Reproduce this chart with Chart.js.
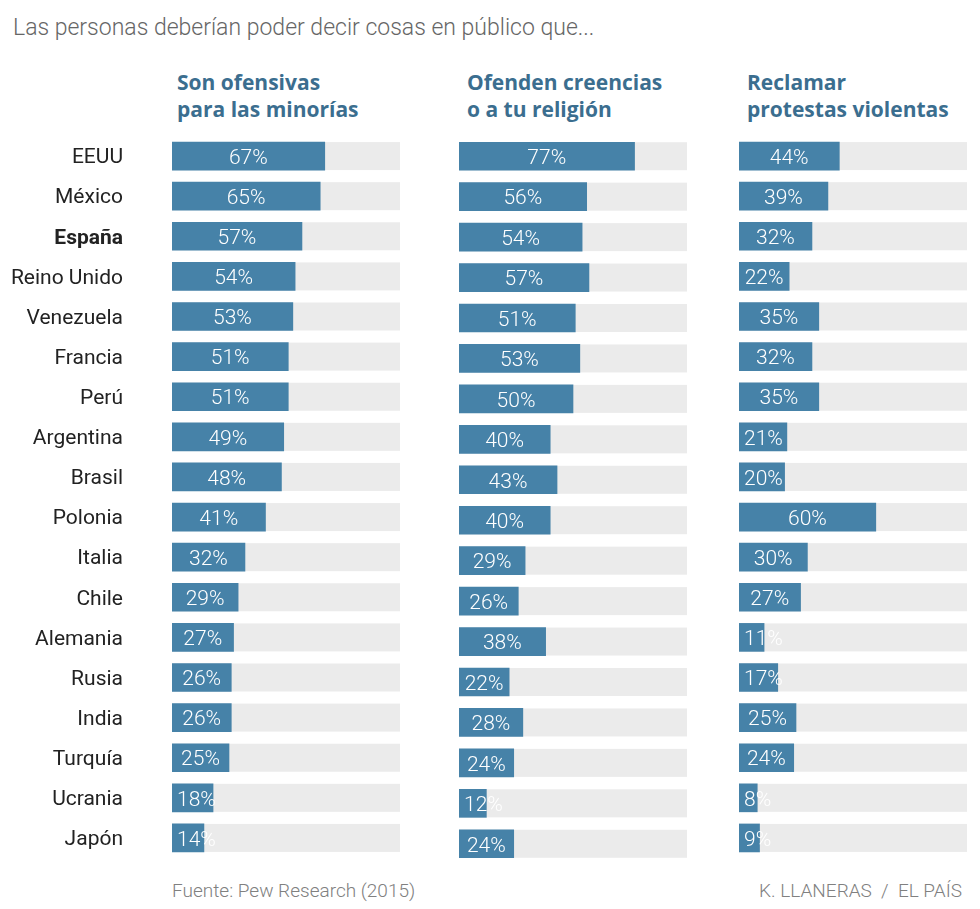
<!DOCTYPE html>
<html>
<head>
<meta charset="utf-8">
<script src="https://cdn.jsdelivr.net/npm/chart.js@4.4.1/dist/chart.umd.min.js"></script>
<style>
  html, body { margin: 0; padding: 0; background: #fff; }
  body { width: 980px; height: 909px; position: relative; overflow: hidden; font-family: Roboto, sans-serif; }
  .title { position: absolute; left: 13px; top: 14px; font-size: 23px; font-weight: 300; color: #666; white-space: nowrap; }
  .head { position: absolute; top: 69px; font-family: 'Open Sans', sans-serif; font-size: 21px; font-weight: 700; color: #3b6e8f; line-height: 27px; white-space: nowrap; }
  .foot { position: absolute; top: 879px; font-size: 19px; font-weight: 300; color: #808080; white-space: nowrap; }
  .panel { position: absolute; }
</style>
</head>
<body>
<div class="title">Las personas deberían poder decir cosas en público que...</div>
<div class="head" style="left:177px">Son ofensivas<br>para las minorías</div>
<div class="head" style="left:467px">Ofenden creencias<br>o a tu religión</div>
<div class="head" style="left:747px">Reclamar<br>protestas violentas</div>

<div class="panel" style="left:0px;top:136px;width:400px;height:722px"><canvas id="c1"></canvas></div>
<div class="panel" style="left:459px;top:136px;width:228px;height:728px"><canvas id="c2"></canvas></div>
<div class="panel" style="left:739px;top:136px;width:228px;height:722px"><canvas id="c3"></canvas></div>

<div class="foot" style="left:172px">Fuente: Pew Research (2015)</div>
<div class="foot" style="right:18px">K. LLANERAS &nbsp;/&nbsp; EL PAÍS</div>

<script>
// ── data ────────────────────────────────────────────────────────────
const countries = ['EEUU', 'México', 'España', 'Reino Unido', 'Venezuela', 'Francia', 'Perú', 'Argentina',
  'Brasil', 'Polonia', 'Italia', 'Chile', 'Alemania', 'Rusia', 'India', 'Turquía', 'Ucrania', 'Japón'];
const minorias  = [67, 65, 57, 54, 53, 51, 51, 49, 48, 41, 32, 29, 27, 26, 26, 25, 18, 14];
const religion  = [77, 56, 54, 57, 51, 53, 50, 40, 43, 40, 29, 26, 38, 22, 28, 24, 12, 24];
const violentas = [44, 39, 32, 22, 35, 32, 35, 21, 20, 60, 30, 27, 11, 17, 25, 24,  8,  9];
const highlight = 'España';

const C = { bar: '#4682a8', track: '#ebebeb', text: '#ffffff', label: '#222222' };

// gray 0–100 track behind each bar, and the white % label on top
const trackPlugin = {
  id: 'track',
  beforeDatasetsDraw(chart) {
    const { ctx, scales: { x } } = chart;
    const x0 = x.getPixelForValue(0), x1 = x.getPixelForValue(100);
    ctx.save();
    ctx.fillStyle = C.track;
    chart.getDatasetMeta(0).data.forEach(b => {
      ctx.fillRect(x0, b.y - b.height / 2, x1 - x0, b.height);
    });
    ctx.restore();
  },
  afterDatasetsDraw(chart) {
    const { ctx } = chart;
    const vals = chart.data.datasets[0].data;
    ctx.save();
    ctx.font = '300 21px Roboto';
    ctx.fillStyle = C.text;
    ctx.textAlign = 'center';
    ctx.textBaseline = 'middle';
    chart.getDatasetMeta(0).data.forEach((b, i) => {
      const txt = vals[i] + '%';
      const w = ctx.measureText(txt).width;
      const cx = Math.max((b.base + b.x) / 2, b.base + 5 + w / 2);
      ctx.fillText(txt, cx, b.y + 2.5);
    });
    ctx.restore();
  }
};

function barChart(id, values, showLabels) {
  const y = { display: false };
  if (showLabels) Object.assign(y, {
    display: true,
    grid: { display: false, drawTicks: false },
    border: { display: false },
    ticks: {
      padding: 49, labelOffset: 2, color: C.label,
      font: ctx => ({ family: 'Roboto', size: 21, weight: countries[ctx.index] === highlight ? 'bold' : 'normal' })
    },
    // fixed label column; drop the vertical padding the tick padding would add
    afterFit: ax => { ax.width = 172; ax.paddingTop = 0; ax.paddingBottom = 0; }
  });
  return new Chart(document.getElementById(id), {
    type: 'bar',
    data: { labels: countries, datasets: [{ data: values, backgroundColor: C.bar, barThickness: 28 }] },
    options: {
      indexAxis: 'y',
      responsive: true, maintainAspectRatio: false, animation: false,
      layout: { padding: 0 },
      plugins: { legend: { display: false }, tooltip: { enabled: false } },
      scales: { x: { display: false, min: 0, max: 100 }, y }
    },
    plugins: [trackPlugin]
  });
}

barChart('c1', minorias, true);
barChart('c2', religion, false);
barChart('c3', violentas, false);
</script>
</body>
</html>
